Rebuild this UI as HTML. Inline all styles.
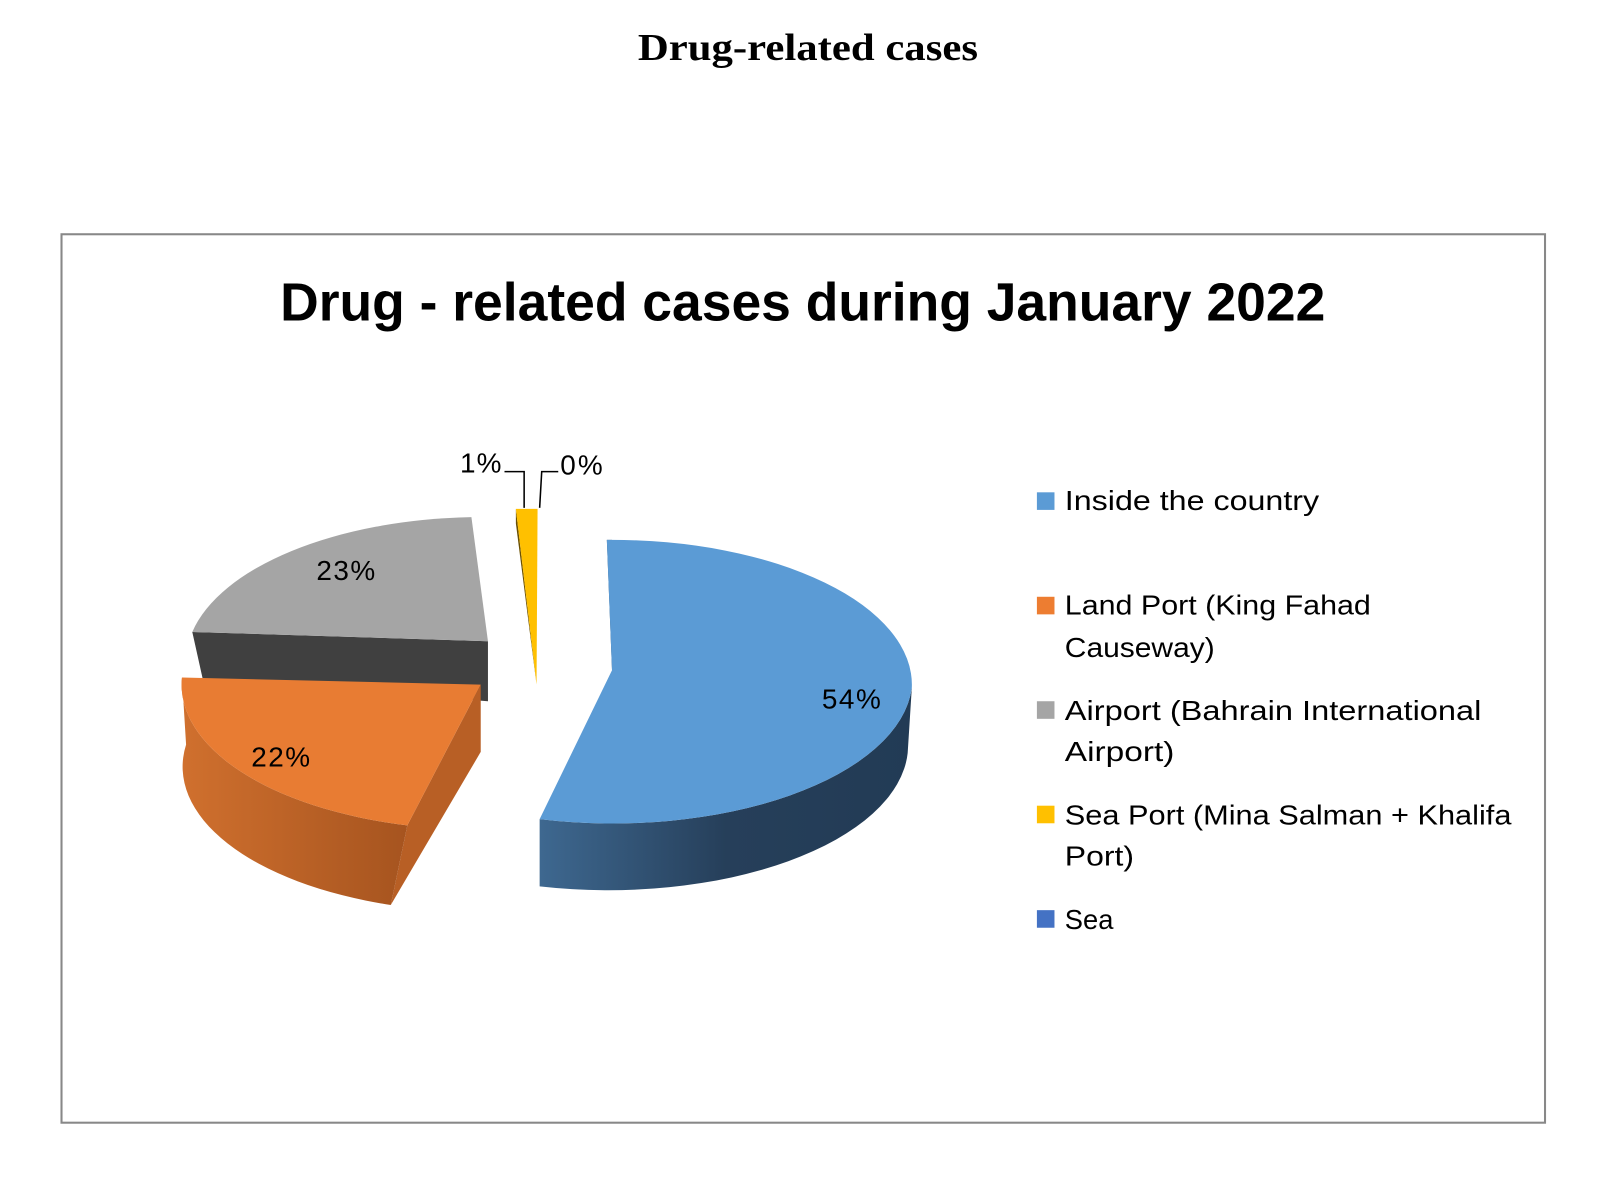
<!DOCTYPE html>
<html><head><meta charset="utf-8"><style>html,body{margin:0;padding:0;background:#fff}svg{display:block}</style></head>
<body>
<svg width="1621" height="1177" viewBox="0 0 1568 1138" preserveAspectRatio="none" xmlns="http://www.w3.org/2000/svg">
<defs>
<linearGradient id="bs" x1="0" x2="1"><stop offset="0" stop-color="#3e6890"/><stop offset="0.5" stop-color="#263f5a"/><stop offset="1" stop-color="#223b55"/></linearGradient>
<linearGradient id="os" x1="0" x2="1"><stop offset="0" stop-color="#d0702e"/><stop offset="1" stop-color="#a6541f"/></linearGradient>
</defs>
<text x="617" y="58" textLength="329" lengthAdjust="spacingAndGlyphs" font-family="Liberation Serif, serif" font-weight="bold" font-size="37">Drug-related cases</text>
<rect x="59.5" y="226.5" width="1435" height="859" fill="#fff" stroke="#888" stroke-width="2"/>
<text x="271" y="310" textLength="1011" lengthAdjust="spacingAndGlyphs" font-family="Liberation Sans, sans-serif" font-weight="bold" font-size="52">Drug - related cases during January 2022</text>

<path d="M186,611 L472,620 L472,678 L196,656 Z" fill="#404040"/>
<path d="M472,620 L186,611 A287,140 0 0 1 456,500 Z" fill="#a5a5a5"/>

<path d="M394,798 L465,662 L465,727 L378,875 Z" fill="#b85f25"/>
<path d="M176,655 A287,140 0 0 0 394,798 L378,875 A287,140 0 0 1 180,720 Z" fill="url(#os)"/>
<path d="M465,662 L394,798 A287,140 0 0 1 176,655 Z" fill="#e87c33"/>

<path d="M499,492 L499,506 L519,662 Z" fill="#6b5000"/>
<path d="M499,492 L520,492 L519,662 Z" fill="#ffc000"/>

<path d="M882,665 A290,140 0 0 1 522,792 L522,857 A290,140 0 0 0 878,728 Z" fill="url(#bs)"/>
<path d="M587,522 L592,648 L596,648 L592,522 Z" fill="#2a4866"/>
<path d="M592,648 L587,522 A290,140 0 0 1 882,665 A290,140 0 0 1 522,792 Z" fill="#5b9bd5"/>

<g font-family="Liberation Sans, sans-serif" font-size="27" fill="#000" lengthAdjust="spacingAndGlyphs">
<text x="795" y="685" textLength="57">54%</text>
<text x="243" y="741" textLength="57">22%</text>
<text x="306" y="561" textLength="57">23%</text>
<text x="445" y="457" textLength="40">1%</text>
<text x="542" y="459" textLength="41">0%</text>
</g>
<polyline points="488,456 507,456 507,491" fill="none" stroke="#000" stroke-width="1.5"/>
<polyline points="540,456 524,456 522,491" fill="none" stroke="#000" stroke-width="1.5"/>

<g font-family="Liberation Sans, sans-serif" font-size="27" fill="#000">
<rect x="1003" y="476" width="17" height="17" fill="#5b9bd5"/><text x="1030" y="493" textLength="246" lengthAdjust="spacingAndGlyphs">Inside the country</text>
<rect x="1003" y="577" width="17" height="17" fill="#ed7d31"/><text x="1030" y="594" textLength="296" lengthAdjust="spacingAndGlyphs">Land Port (King Fahad</text><text x="1030" y="635" textLength="145" lengthAdjust="spacingAndGlyphs">Causeway)</text>
<rect x="1003" y="678" width="17" height="17" fill="#a5a5a5"/><text x="1030" y="696" textLength="403" lengthAdjust="spacingAndGlyphs">Airport (Bahrain International</text><text x="1030" y="736" textLength="106" lengthAdjust="spacingAndGlyphs">Airport)</text>
<rect x="1003" y="779" width="17" height="17" fill="#ffc000"/><text x="1030" y="797" textLength="432" lengthAdjust="spacingAndGlyphs">Sea Port (Mina Salman + Khalifa</text><text x="1030" y="837" textLength="67" lengthAdjust="spacingAndGlyphs">Port)</text>
<rect x="1003" y="880" width="17" height="17" fill="#4472c4"/><text x="1030" y="898" textLength="47" lengthAdjust="spacingAndGlyphs">Sea</text>
</g>
</svg>
</body></html>
